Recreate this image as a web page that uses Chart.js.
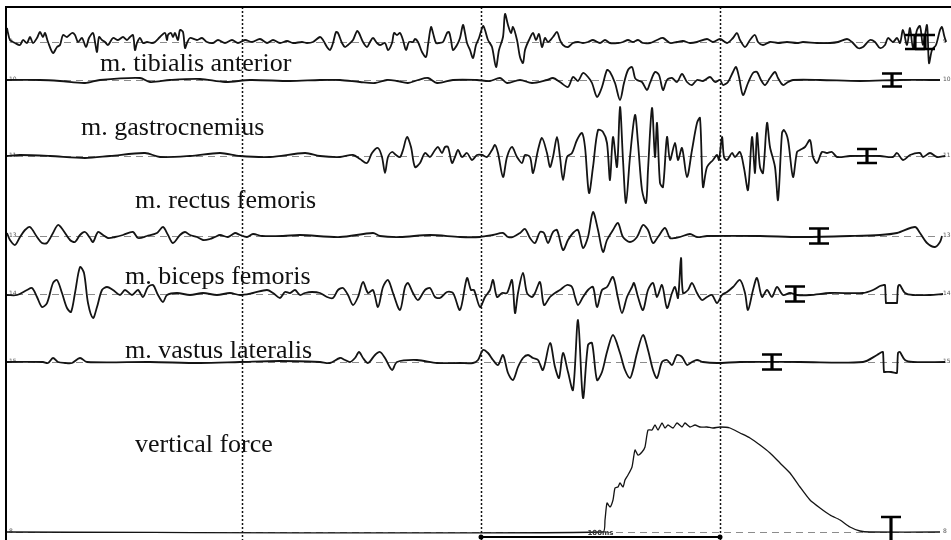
<!DOCTYPE html>
<html>
<head>
<meta charset="utf-8">
<script src="https://cdn.jsdelivr.net/npm/chart.js@4/dist/chart.umd.min.js"></script>
<style>
  html, body { margin: 0; padding: 0; background: #ffffff; }
  #emg { display: block; }
</style>
</head>
<body>
<canvas id="emg" width="951" height="540"></canvas>
<script>
// EMG recording, 2.39 kHz sampling: x = sample index, y = amplitude (a.u.)
const SAMPLES_PER_MS = 2.39;

// channel 9 (unlabelled top channel)
const ch9 = [[1,14],[2,9],[4,2],[9,-1],[14,-3],[17,2],[21,-1],[24,5],[27,-1],[31,4],[34,10],[37,5],[39,9],[42,0],[47,-11],[51,-5],[54,-3],[57,7],[61,5],[66,9],[69,7],[72,0],[76,4],[80,-5],[83,4],[87,9],[89,0],[91,-10],[93,5],[96,2],[99,0],[102,-3],[107,4],[112,2],[117,5],[121,2],[124,5],[127,7],[129,-8],[131,-1],[134,4],[137,-1],[141,0],[146,-1],[149,0],[154,5],[159,9],[161,2],[162,7],[165,9],[167,5],[169,9],[172,2],[174,12],[177,10],[179,-6],[181,-1],[184,4],[191,2],[196,4],[201,0],[207,-1],[212,2],[219,-1],[226,2],[232,-1],[239,2],[246,0],[254,3],[261,-1],[267,2],[274,-1],[281,1],[287,-1],[296,0],[301,-1],[307,0],[314,5],[317,2],[321,-5],[324,-8],[327,-1],[330,10],[332,9],[336,-1],[339,-5],[342,-3],[347,2],[351,11],[353,9],[357,0],[361,-5],[364,0],[367,4],[371,-1],[374,-3],[379,-1],[382,-8],[386,-1],[388,9],[391,7],[394,9],[397,2],[400,-8],[403,0],[407,0],[409,3],[412,0],[416,-10],[420,-15],[422,-3],[425,15],[427,9],[430,-1],[433,-1],[437,0],[441,9],[443,10],[445,2],[447,-8],[451,-3],[454,4],[457,17],[459,9],[461,-1],[464,-8],[467,-16],[470,-3],[473,4],[477,16],[479,12],[482,2],[486,-5],[490,-25],[493,-8],[497,5],[499,28],[502,17],[505,9],[507,15],[511,2],[514,-15],[517,-21],[519,-8],[523,2],[527,9],[530,2],[533,8],[536,-5],[539,4],[542,0],[547,5],[551,10],[554,2],[557,-3],[562,-5],[567,-1],[572,0],[577,-1],[582,0],[587,2],[594,-1],[599,2],[604,-1],[612,-1],[617,0],[622,2],[627,0],[632,2],[637,-1],[644,-1],[651,2],[657,4],[664,-1],[671,0],[677,1],[684,-1],[691,0],[701,3],[707,0],[714,3],[721,-1],[727,4],[731,9],[734,2],[739,-5],[744,2],[749,7],[752,0],[757,-3],[764,0],[772,-1],[781,0],[791,-1],[797,0],[811,-1],[824,-1],[832,0],[841,3],[846,0],[852,-6],[857,-5],[864,2],[869,0],[874,-6],[879,-3],[882,4],[887,0],[891,4],[894,-1],[897,12],[901,-3],[904,14],[907,-6],[911,12],[914,16],[917,-3],[921,17],[923,-21],[926,-8],[930,-3],[934,12],[936,15],[938,7],[940,0]];

// m. tibialis anterior
const tibialisAnterior = [[1,0],[34,0],[54,-1],[79,-3],[94,0],[134,2],[144,-2],[164,0],[194,1],[219,-2],[244,0],[284,-1],[314,0],[334,0],[354,-2],[369,-3],[381,0],[391,-1],[402,-3],[412,0],[422,2],[431,-3],[447,0],[471,0],[484,-1],[494,2],[501,-3],[514,0],[526,-3],[541,0],[547,2],[554,-2],[562,-7],[567,3],[572,-1],[577,7],[582,3],[586,-3],[591,-17],[596,-7],[601,10],[604,8],[609,-3],[614,-20],[618,-3],[622,10],[626,13],[629,2],[631,0],[636,-2],[641,-10],[644,-3],[649,8],[653,5],[657,-10],[661,0],[666,2],[671,-2],[676,6],[681,-2],[686,-5],[691,0],[697,-1],[704,3],[709,-2],[714,0],[717,-5],[722,-2],[727,8],[730,13],[733,3],[737,-15],[742,-3],[747,7],[751,8],[755,0],[759,-5],[764,2],[769,8],[772,2],[777,-5],[782,-2],[787,0],[814,0],[854,-1],[894,0],[924,0],[934,0]];

// m. gastrocnemius
const gastrocnemius = [[1,0],[14,1],[44,0],[79,-2],[104,0],[139,3],[154,-1],[184,0],[214,3],[234,0],[264,-1],[299,3],[314,0],[334,-1],[347,1],[354,-3],[361,-7],[366,3],[372,8],[376,-1],[379,-17],[382,-1],[386,4],[390,1],[394,-1],[397,6],[401,19],[405,9],[409,-11],[414,-7],[419,3],[424,-1],[429,6],[432,9],[436,3],[439,9],[442,9],[446,-7],[449,-1],[452,6],[456,-1],[461,3],[466,-4],[471,1],[476,1],[481,-1],[486,6],[489,11],[492,3],[497,-21],[501,-1],[506,9],[511,-1],[516,-7],[519,1],[524,-1],[527,-17],[532,6],[536,18],[541,3],[544,-11],[547,-1],[551,19],[554,-1],[557,-24],[561,-1],[566,3],[571,16],[576,23],[579,9],[583,-37],[587,-11],[592,26],[597,24],[601,13],[604,-24],[607,19],[611,-11],[614,49],[617,-4],[620,-47],[624,-1],[629,41],[632,13],[636,-34],[640,-47],[642,-14],[646,48],[649,-1],[651,33],[654,-27],[657,-31],[661,19],[664,-4],[669,13],[672,-4],[676,8],[681,-21],[686,6],[691,33],[694,38],[697,-31],[701,-11],[707,-4],[711,1],[713,-4],[716,19],[718,-1],[721,-4],[726,3],[729,-1],[734,4],[738,-12],[742,-34],[746,19],[749,-17],[751,23],[754,-11],[757,-17],[761,33],[764,9],[769,-11],[772,-44],[776,23],[778,26],[782,16],[787,-21],[791,4],[794,6],[799,9],[804,16],[807,-1],[811,-7],[816,4],[821,3],[826,4],[831,-1],[844,0],[874,0],[887,-1],[891,3],[897,-4],[904,1],[914,3],[917,-1],[924,3],[931,-1],[939,0]];

// m. rectus femoris
const rectusFemoris = [[1,3],[4,-4],[9,-9],[14,-1],[19,6],[24,9],[31,-1],[36,-7],[41,-7],[47,3],[52,11],[57,6],[64,-4],[69,-6],[74,1],[79,4],[84,-2],[87,-6],[92,4],[97,1],[102,-2],[109,-1],[117,1],[127,4],[132,-2],[141,0],[151,3],[157,9],[162,1],[167,-7],[174,1],[179,4],[184,1],[191,-1],[197,-4],[204,-3],[209,-1],[214,1],[222,-1],[229,3],[234,1],[241,-1],[247,2],[256,0],[277,0],[294,1],[334,-1],[367,3],[374,0],[394,-1],[424,1],[454,-1],[474,-1],[487,1],[497,3],[502,-1],[507,-1],[514,3],[519,7],[524,-2],[529,-7],[534,4],[538,3],[542,-7],[547,4],[551,6],[557,-14],[562,-4],[567,3],[572,6],[577,-12],[582,-1],[587,24],[592,6],[597,-16],[601,-4],[607,6],[612,13],[617,-1],[624,-6],[631,-1],[637,11],[642,6],[647,-7],[652,-1],[659,8],[664,-2],[669,-2],[674,-1],[684,2],[691,-1],[701,0],[754,0],[794,-1],[844,0],[874,1],[891,3],[909,9],[914,3],[921,-7],[929,-11],[934,-6],[936,0]];

// m. biceps femoris
const bicepsFemoris = [[1,-1],[11,-1],[21,4],[26,6],[31,-3],[36,-13],[41,-9],[47,11],[51,14],[56,1],[61,-14],[65,-18],[69,1],[74,27],[78,21],[82,-9],[87,-24],[91,-13],[96,4],[101,7],[107,4],[114,-1],[119,4],[126,-1],[132,4],[137,-3],[142,7],[147,9],[152,-1],[157,-8],[161,-1],[171,1],[184,-1],[197,1],[211,-1],[224,1],[234,-1],[247,1],[261,4],[267,1],[274,-4],[279,2],[284,1],[289,4],[294,-1],[299,1],[306,2],[314,1],[321,-3],[327,-4],[332,4],[337,6],[342,-1],[347,-11],[352,-3],[357,12],[362,1],[367,4],[372,-13],[377,7],[382,14],[387,1],[394,-16],[399,7],[402,11],[407,1],[412,-6],[419,4],[424,6],[429,-3],[434,-4],[441,2],[447,1],[454,-16],[461,16],[465,4],[468,4],[474,-13],[479,-3],[484,4],[487,14],[491,-3],[496,1],[501,1],[506,14],[509,-19],[512,1],[517,21],[521,1],[526,-3],[529,1],[534,12],[538,-11],[544,-3],[549,1],[554,4],[561,9],[566,7],[569,-3],[572,-11],[577,-3],[582,4],[587,7],[591,-13],[596,4],[601,7],[607,17],[612,-4],[616,-19],[621,-3],[626,7],[628,11],[632,-3],[637,-16],[642,4],[647,11],[651,-3],[656,9],[661,-14],[666,1],[669,7],[672,-4],[675,36],[677,1],[682,4],[686,11],[691,1],[696,-6],[701,-3],[706,-1],[711,-9],[716,-1],[721,2],[727,7],[734,14],[739,1],[742,-16],[747,4],[751,16],[756,-3],[761,4],[766,-3],[771,7],[777,-1],[784,1],[791,-1],[804,-1],[824,1],[857,1],[867,4],[874,8],[878,9],[879,9],[879.5,0],[880,-9],[881,-9],[885,-9],[890,-9],[891,-9],[891.5,0],[892,7],[893,9],[894,9],[899,1],[907,-1],[924,-1],[937,0]];

// m. vastus lateralis
const vastusLateralis = [[1,0],[37,0],[42,-1],[47,4],[52,0],[59,-1],[66,-1],[74,4],[81,0],[144,0],[194,-1],[234,0],[274,1],[314,0],[324,-1],[334,4],[339,2],[344,0],[349,4],[353,10],[357,4],[362,-1],[369,7],[374,10],[379,4],[386,-8],[391,0],[411,2],[431,-1],[454,-1],[467,-1],[472,2],[477,12],[482,9],[487,2],[492,-3],[497,7],[502,-11],[507,-18],[512,-5],[517,4],[522,7],[527,4],[532,2],[537,-8],[544,19],[549,-5],[553,-16],[557,9],[562,-10],[567,-28],[572,42],[577,-36],[582,17],[586,19],[591,-18],[596,-10],[601,10],[607,27],[614,9],[619,-8],[624,-16],[627,-8],[631,9],[637,27],[642,12],[647,-8],[651,-16],[656,0],[661,2],[666,-3],[671,7],[676,5],[681,-3],[686,0],[691,2],[697,0],[711,-1],[734,0],[794,0],[857,0],[871,7],[876,10],[877,10],[877.5,0],[878,-10],[879,-10],[885,-10],[890,-11],[891,-11],[891.5,0],[892,9],[893,10],[894,10],[899,2],[907,0],[939,0]];

// vertical ground reaction force
const verticalForce = [[1,0],[597,0],[599,12],[601,29],[604,25],[607,32],[609,44],[612,45],[614,49],[617,45],[619,52],[622,57],[626,65],[629,82],[632,77],[636,80],[639,85],[642,102],[646,102],[649,107],[652,102],[656,109],[659,104],[662,107],[667,104],[671,109],[676,105],[679,109],[684,105],[689,107],[694,105],[701,105],[707,104],[714,105],[724,104],[734,99],[744,94],[754,87],[764,79],[774,69],[784,59],[794,45],[804,32],[814,24],[824,17],[834,12],[844,5],[854,1],[864,0],[934,0]];

const channelNumbers = ['9', '10', '11', '13', '14', '15', '8'];
const channelNames = ['', 'm. tibialis anterior', 'm. gastrocnemius', 'm. rectus femoris', 'm. biceps femoris', 'm. vastus lateralis', 'vertical force'];
const channelData = [ch9, tibialisAnterior, gastrocnemius, rectusFemoris, bicepsFemoris, vastusLateralis, verticalForce];

// calibration bars: [channel, sample, half-height]
const calibrationBars = [[0, 909, 7], [0, 919, 7], [1, 886, 6.5], [2, 861, 7], [3, 813, 7.5], [4, 789, 7.5], [5, 766, 7.5], [6, 885, 15]];

// time markers (ms relative to the mid marker) and the 100 ms scale bar
const markerTimesMs = [-100, 0, 100];
const triggerSample = 475;
const scaleBarMs = [0, 100];
const scaleBarLabel = '100ms';

// ---- layout of the stacked channels ----
const AREA_TOP = 7, AREA_BOTTOM = 540;
const baselinePx = [42, 80, 156, 236, 294, 362, 532];
const labelPos = [null, [100, 71], [81, 135], [135, 208], [125, 284], [125, 358], [135, 452]];

const yScales = {};
baselinePx.forEach((b, i) => {
  yScales['y' + i] = { display: false, min: b - AREA_BOTTOM, max: b - AREA_TOP };
});

const datasets = channelData.map((d, i) => ({
  label: channelNames[i] || ('channel ' + channelNumbers[i]),
  data: d,
  yAxisID: 'y' + i,
  borderColor: '#141414',
  borderWidth: i === 6 ? 1.3 : 1.8,
  pointRadius: 0,
  tension: i === 6 ? 0.2 : 0.3,
  fill: false
}));

const msToSample = ms => triggerSample + ms * SAMPLES_PER_MS;

const decorations = {
  id: 'decorations',
  beforeDatasetsDraw(chart) {
    const { ctx, chartArea, scales } = chart;
    const x = scales.x;
    ctx.save();
    // dashed baselines
    ctx.strokeStyle = '#8c8c8c';
    ctx.lineWidth = 1;
    ctx.setLineDash([7, 5]);
    baselinePx.forEach((_, i) => {
      const y = Math.round(scales['y' + i].getPixelForValue(0)) + 0.5;
      ctx.beginPath();
      ctx.moveTo(x.getPixelForValue(10), y);
      ctx.lineTo(x.getPixelForValue(934), y);
      ctx.stroke();
    });
    // dotted time markers
    ctx.strokeStyle = '#111';
    ctx.lineWidth = 1.5;
    ctx.setLineDash([2, 2]);
    markerTimesMs.forEach(ms => {
      const px = Math.round(x.getPixelForValue(msToSample(ms))) + 0.5;
      ctx.beginPath();
      ctx.moveTo(px, chartArea.top);
      ctx.lineTo(px, chartArea.bottom);
      ctx.stroke();
    });
    ctx.setLineDash([]);
    // channel numbers at both ends of each baseline
    ctx.fillStyle = '#555';
    ctx.font = '6px "DejaVu Sans"';
    ctx.textBaseline = 'middle';
    baselinePx.forEach((_, i) => {
      const y = scales['y' + i].getPixelForValue(0) - 1;
      ctx.textAlign = 'left';
      ctx.fillText(channelNumbers[i], chartArea.left + 3, y);
      ctx.fillText(channelNumbers[i], x.getPixelForValue(937), y);
    });
    ctx.restore();
  },
  afterDatasetsDraw(chart) {
    const { ctx, chartArea, scales } = chart;
    const x = scales.x;
    ctx.save();
    // calibration bars
    ctx.strokeStyle = '#000';
    calibrationBars.forEach(([ch, s, h]) => {
      const ys = scales['y' + ch];
      const cx = x.getPixelForValue(s);
      const yt = ys.getPixelForValue(h), yb = ys.getPixelForValue(-h);
      ctx.lineWidth = 3.2;
      ctx.beginPath();
      ctx.moveTo(cx, yt); ctx.lineTo(cx, yb);
      ctx.stroke();
      ctx.lineWidth = 2.6;
      ctx.beginPath();
      ctx.moveTo(cx - 10, yt); ctx.lineTo(cx + 10, yt);
      ctx.moveTo(cx - 10, yb); ctx.lineTo(cx + 10, yb);
      ctx.stroke();
    });
    // 100 ms scale bar
    const x0 = x.getPixelForValue(msToSample(scaleBarMs[0]));
    const x1 = x.getPixelForValue(msToSample(scaleBarMs[1]));
    const yb = chartArea.bottom - 3;
    ctx.lineWidth = 2;
    ctx.beginPath();
    ctx.moveTo(x0, yb); ctx.lineTo(x1, yb);
    ctx.stroke();
    ctx.fillStyle = '#000';
    [x0, x1].forEach(px => { ctx.beginPath(); ctx.arc(px, yb, 2.5, 0, Math.PI * 2); ctx.fill(); });
    ctx.fillStyle = '#333';
    ctx.font = 'bold 7px "DejaVu Sans"';
    ctx.textAlign = 'center';
    ctx.textBaseline = 'bottom';
    ctx.fillText(scaleBarLabel, (x0 + x1) / 2, yb - 0.5);
    // channel names
    ctx.fillStyle = '#111';
    ctx.font = '26px "Liberation Serif", "Times New Roman", serif';
    ctx.textAlign = 'left';
    ctx.textBaseline = 'alphabetic';
    channelNames.forEach((name, i) => {
      if (!name) return;
      ctx.fillText(name, labelPos[i][0], labelPos[i][1]);
    });
    // frame (top and left edges)
    ctx.strokeStyle = '#000';
    ctx.lineWidth = 2;
    ctx.beginPath();
    ctx.moveTo(chartArea.right, chartArea.top);
    ctx.lineTo(chartArea.left, chartArea.top);
    ctx.lineTo(chartArea.left, chartArea.bottom);
    ctx.stroke();
    ctx.restore();
  }
};

new Chart(document.getElementById('emg'), {
  type: 'line',
  data: { datasets },
  options: {
    responsive: false,
    animation: false,
    devicePixelRatio: 1,
    parsing: true,
    layout: { padding: { left: 6, top: 7, right: 0, bottom: 0 } },
    plugins: { legend: { display: false }, tooltip: { enabled: false }, title: { display: false } },
    scales: Object.assign({
      x: { type: 'linear', display: false, min: 0, max: 945 }
    }, yScales)
  },
  plugins: [decorations]
});
</script>
</body>
</html>
